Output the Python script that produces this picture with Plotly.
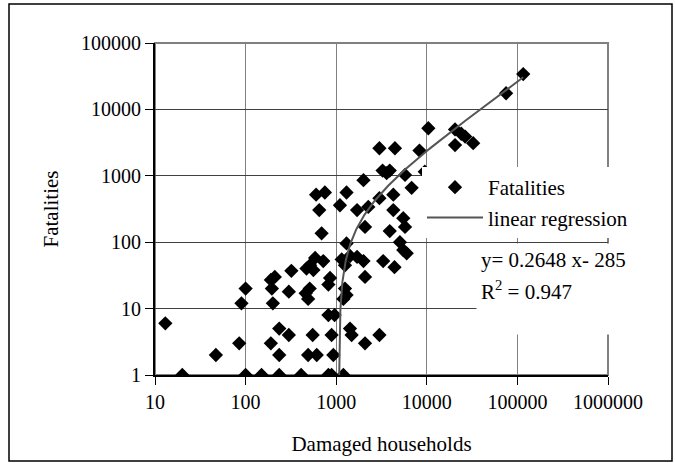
import numpy as np
import plotly.graph_objects as go

# ---- data ----
damaged_households = [
    13, 20, 47, 85, 90, 100, 100, 150, 235, 410, 820, 890, 1200,
    190, 235, 235, 300, 490, 610, 550, 930, 890, 820, 960,
    200, 195, 210, 190, 300, 320, 460, 510, 490,
    470, 515, 560, 585, 720, 855, 820,
    690, 650, 1100, 1300, 600, 750, 1300, 1700, 2260, 3000, 4270, 6800,
    4270, 5500, 5750, 3900, 2080, 5050, 6000, 5500, 3300, 4400, 2080,
    1150, 1250, 1420, 1700, 2000, 1250, 1300, 1200, 1420, 1480, 2080, 3000,
    10400, 3000, 4450, 8300, 3250, 3900, 3600, 5750, 2000, 9500,
    116000, 75000, 20500, 24000, 26500, 20500, 32500,
]
fatalities = [
    6, 1, 2, 3, 12, 20, 1, 1, 1, 1, 1, 1, 1,
    3, 2, 5, 4, 2, 2, 4, 2, 4, 8, 8,
    12, 20, 30, 27, 18, 37, 17, 20, 14,
    40, 45, 38, 58, 52, 29, 23,
    136, 305, 360, 96, 520, 560, 560, 305, 340, 460, 520, 660,
    305, 230, 170, 147, 170, 100, 68, 76, 52, 42, 30,
    55, 45, 62, 60, 52, 20, 16, 14, 5, 4, 3, 4,
    5200, 2600, 2600, 2400, 1200, 1200, 1100, 1030, 860, 1150,
    34000, 17500, 5000, 4300, 3900, 2900, 3100,
]
x_tick_vals = [10, 100, 1000, 10000, 100000, 1000000]
x_tick_text = ["10", "100", "1000", "10000", "100000", "1000000"]
y_tick_vals = [1, 10, 100, 1000, 10000, 100000]
y_tick_text = ["1", "10", "100", "1000", "10000", "100000"]

# regression shown in the chart: y = 0.2648 x - 285
reg_slope = 0.2648
reg_intercept = -285
equation_line1 = "y= 0.2648 x- 285"
equation_line2 = "R<sup>2</sup> = 0.947"

# trendline evaluated along the data range (only positive values show on log axis)
reg_y = np.logspace(0, np.log10(reg_slope * max(damaged_households) + reg_intercept), 200)
reg_x = (reg_y - reg_intercept) / reg_slope

# ---- layout geometry (page pixels; body margin removed via post_script) ----
W, H = 675, 463
L, R, T, B = 155, 608, 43, 375          # plot area in pixels
def px(x):
    return (x - L) / (R - L)
def py(y):
    return (B - y) / (B - T)

FONT = "Liberation Serif, Times New Roman, serif"
TXT = dict(family=FONT, size=21, color="#000000")

fig = go.Figure()
fig.add_trace(go.Scatter(
    x=damaged_households, y=fatalities, mode="markers", name="Fatalities",
    marker=dict(symbol="diamond", size=11, color="#000000", line=dict(width=0)),
))
fig.add_trace(go.Scatter(
    x=reg_x, y=reg_y, mode="lines", name="linear regression",
    line=dict(color="#555555", width=2),
))

axis_common = dict(
    type="log", showgrid=True, gridwidth=1,
    showline=True, linecolor="#000000", linewidth=2,
    ticks="outside", ticklen=8, tickwidth=1, tickcolor="#000000",
    tickfont=dict(family=FONT, size=20, color="#000000"),
    zeroline=False, automargin=False,
)
fig.update_xaxes(
    **axis_common, range=[1, 6], tickvals=x_tick_vals, ticktext=x_tick_text,
    gridcolor="#808080",
    title=dict(text="Damaged households", font=TXT, standoff=24),
)
fig.update_yaxes(
    **axis_common, range=[0, 5], tickvals=y_tick_vals, ticktext=y_tick_text,
    gridcolor="#404040",
    title=dict(text="Fatalities", font=TXT, standoff=17),
)

# grey plot-area border (top/right), outer black frame
fig.add_shape(type="rect", xref="paper", yref="paper", x0=0, x1=1, y0=0, y1=1,
              line=dict(color="#808080", width=2), layer="between")
fig.add_shape(type="rect", xref="paper", yref="paper",
              x0=px(9), x1=px(672), y0=py(461), y1=py(4),
              line=dict(color="#000000", width=1.5), layer="above")

# regression equation box (white background hides the grid behind it)
fig.add_annotation(
    xref="paper", yref="paper", x=px(476), y=py(243), xanchor="left", yanchor="top",
    text=equation_line1, showarrow=False, align="left", valign="top",
    font=TXT, bgcolor="#ffffff", borderpad=4, width=160, height=82,
)
fig.add_annotation(
    xref="paper", yref="paper", x=px(476), y=py(290), xanchor="left", yanchor="middle",
    text=equation_line2, showarrow=False, align="left",
    font=TXT, borderpad=4,
)

fig.update_layout(
    width=W, height=H,
    margin=dict(l=L, r=W - R, t=T, b=H - B),
    paper_bgcolor="#ffffff", plot_bgcolor="#ffffff",
    font=TXT,
    showlegend=True,
    legend=dict(
        x=px(422), y=py(167), xanchor="left", yanchor="top",
        bgcolor="#ffffff", borderwidth=0, itemwidth=56,
        font=TXT,
    ),
)

fig.write_html(
    "out.html",
    config={"displayModeBar": False},
    post_script="document.body.style.margin='0';document.body.style.overflow='hidden';",
)
